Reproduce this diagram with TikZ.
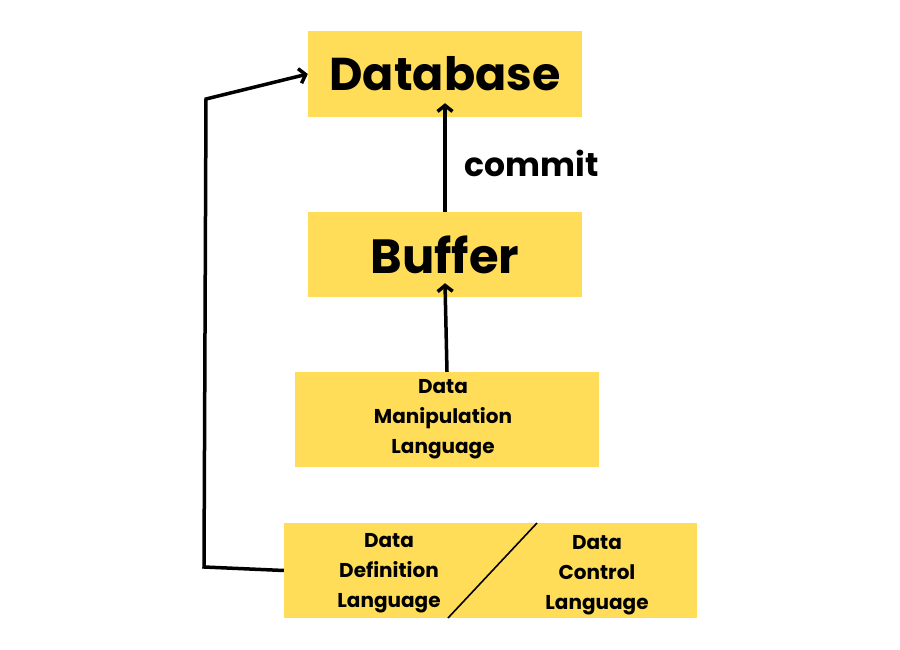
\documentclass[tikz,border=0pt]{standalone}
\usepackage{fontspec}
\setmainfont{Poppins}
\usetikzlibrary{arrows.meta,calc}
\definecolor{boxyellow}{HTML}{FFDD59}
\tikzset{
  box/.style={fill=boxyellow, draw=none, inner sep=0pt, align=center},
  big/.style={font=\fontsize{46}{50}\selectfont\bfseries},
  bigb/.style={font=\fontsize{48}{50}\selectfont\bfseries},
  small/.style={font=\fontsize{20}{30}\selectfont\bfseries, align=center},
  lbl/.style={font=\fontsize{33}{36}\selectfont\bfseries},
  arr/.style={line width=3.5pt, -{Straight Barb[length=6pt,width=15pt,line width=3.5pt]}},
}
\begin{document}
\begin{tikzpicture}[x=1pt,y=-1pt]
\useasboundingbox (0,0) rectangle (900,650);
\node[box, big, minimum width=274pt, minimum height=86pt] (db) at (445,74) {Database};
\node[box, bigb, minimum width=274pt, minimum height=85pt] (buf) at (445,254.5) {Buffer};
\node[box, minimum width=304pt, minimum height=95pt] (dml) at (447,419.5) {};
\node[small] (dmltext) at (443,419) {Data\\Manipulation\\Language};
\node[box, minimum width=413pt, minimum height=95pt] (bottom) at (490.5,570.5) {};
\node[small] (ddl) at (389,573) {Data\\Definition\\Language};
\node[small] (dcl) at (597,575) {Data\\Control\\Language};
\coordinate (d1) at (537,523);
\coordinate (d2) at (448,618);
\draw[line width=1.6pt] (d1) -- (d2);
\node[lbl] (commit) at (532,163) {commit};
\draw[arr] (buf.north) -- ([yshift=14pt]db.south);
\draw[arr] (dml.north) -- ([yshift=14pt]buf.south);
\coordinate (c1) at (204,567);
\coordinate (c2) at (206,99);
\draw[arr, line join=miter] (bottom.west) -- (c1) -- (c2) -- (db.west);
\end{tikzpicture}
\end{document}
